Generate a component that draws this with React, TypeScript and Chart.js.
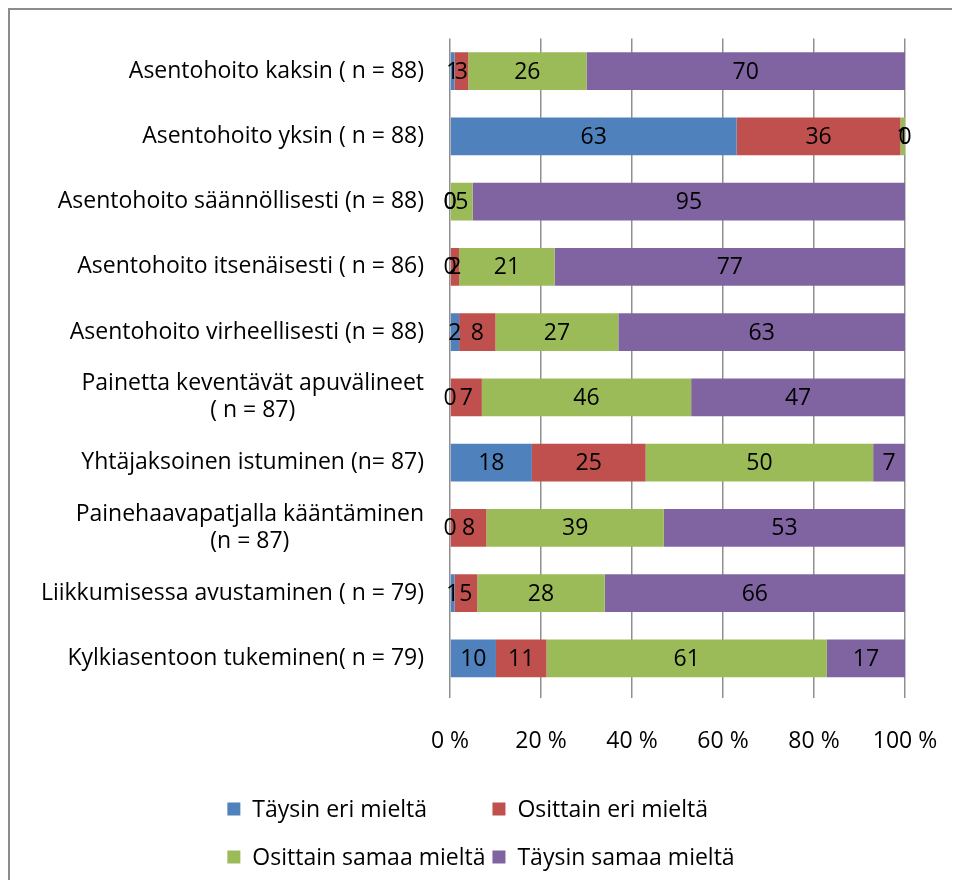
import React, { useEffect, useRef } from "react";
import { Chart, registerables } from "chart.js";

Chart.register(...registerables);

const categories: (string | string[])[] = [
  "Asentohoito kaksin ( n = 88)",
  "Asentohoito yksin ( n = 88)",
  "Asentohoito säännöllisesti (n = 88)",
  "Asentohoito itsenäisesti ( n = 86)",
  "Asentohoito virheellisesti (n = 88)",
  ["Painetta keventävät apuvälineet", "( n = 87)"],
  "Yhtäjaksoinen istuminen (n= 87)",
  ["Painehaavapatjalla kääntäminen", "(n = 87)"],
  "Liikkumisessa avustaminen ( n = 79)",
  "Kylkiasentoon tukeminen( n = 79)",
];

const seriesNames = [
  "Täysin eri mieltä",
  "Osittain eri mieltä",
  "Osittain samaa mieltä",
  "Täysin samaa mieltä",
];

const taysinEri = [1, 63, 0, 0, 2, 0, 18, 0, 1, 10];
const osittainEri = [3, 36, 0, 2, 8, 7, 25, 8, 5, 11];
const osittainSamaa = [26, 1, 5, 21, 27, 46, 50, 39, 28, 61];
const taysinSamaa = [70, 0, 95, 77, 63, 47, 7, 53, 66, 17];

const seriesColors = ["#4F81BD", "#C0504D", "#9BBB59", "#8064A2"];
const xTickValues = [0, 20, 40, 60, 80, 100];

const FONT_FAMILY = "'Open Sans', 'Noto Sans', sans-serif";
const FONT_SIZE = 23;
const FONT = `${FONT_SIZE}px ${FONT_FAMILY}`;

const W = 950;
const H = 870;

const allSeries = [taysinEri, osittainEri, osittainSamaa, taysinSamaa];
const totals = categories.map((_, i) => allSeries.reduce((s, arr) => s + arr[i], 0));

const categoryLabelPlugin = {
  id: "categoryLabels",
  afterDraw(chart: any) {
    const ctx = chart.ctx;
    const yScale = chart.scales.y;
    const rightX = chart.chartArea.left - 26;
    const lineH = 27;
    ctx.save();
    ctx.font = FONT;
    ctx.fillStyle = "#000";
    ctx.textAlign = "center";
    ctx.textBaseline = "middle";
    categories.forEach((cat, i) => {
      const lines = Array.isArray(cat) ? cat : [cat];
      const maxW = Math.max(...lines.map((l) => ctx.measureText(l).width));
      const cx = rightX - maxW / 2;
      const cy = yScale.getPixelForValue(i);
      lines.forEach((l, j) => {
        const y = cy + (j - (lines.length - 1) / 2) * lineH;
        ctx.fillText(l, cx, y);
      });
    });
    ctx.restore();
  },
};

const valueLabelPlugin = {
  id: "valueLabels",
  afterDatasetsDraw(chart: any) {
    const ctx = chart.ctx;
    ctx.save();
    ctx.font = FONT;
    ctx.fillStyle = "#000";
    ctx.textAlign = "center";
    ctx.textBaseline = "middle";
    chart.data.datasets.forEach((ds: any, di: number) => {
      const meta = chart.getDatasetMeta(di);
      meta.data.forEach((el: any, i: number) => {
        const raw = ds.rawValues[i];
        const cx = (el.x + el.base) / 2;
        ctx.fillText(String(raw), cx, el.y + 1);
      });
    });
    ctx.restore();
  },
};

const legendPlugin = {
  id: "customLegend",
  afterDraw(chart: any) {
    const ctx = chart.ctx;
    ctx.save();
    ctx.font = FONT;
    ctx.textBaseline = "middle";
    ctx.textAlign = "left";
    const box = 13;
    const gap = 12;
    const colGap = 7;
    const rowY = [799, 847];
    const items = chart.data.datasets.map((d: any) => ({ text: d.label, color: d.backgroundColor }));
    const colW = [0, 0];
    items.forEach((it: any, i: number) => {
      const w = box + gap + ctx.measureText(it.text).width;
      colW[i % 2] = Math.max(colW[i % 2], w);
    });
    const total = colW[0] + colGap + colW[1];
    const startX = (chart.width - total) / 2 - 4;
    items.forEach((it: any, i: number) => {
      const col = i % 2;
      const row = Math.floor(i / 2);
      const x = startX + (col === 0 ? 0 : colW[0] + colGap);
      const y = rowY[row];
      ctx.fillStyle = it.color;
      ctx.fillRect(x, y - box / 2, box, box);
      ctx.fillStyle = "#000";
      ctx.fillText(it.text, x + box + gap, y + 1);
    });
    ctx.restore();
  },
};

export default function App() {
  const ref = useRef<HTMLCanvasElement | null>(null);

  useEffect(() => {
    if (!ref.current) return;
    const datasets = allSeries.map((arr, si) => ({
      label: seriesNames[si],
      data: arr.map((v, i) => (v / totals[i]) * 100),
      rawValues: arr,
      backgroundColor: seriesColors[si],
      borderWidth: 0,
      categoryPercentage: 1,
      barPercentage: 0.58,
    }));
    const chart = new Chart(ref.current, {
      type: "bar",
      data: { labels: categories.map((_, i) => String(i)), datasets: datasets as any },
      options: {
        indexAxis: "y",
        responsive: false,
        animation: false,
        devicePixelRatio: 1,
        layout: { padding: { left: 440, right: 55, top: 28.5, bottom: 0 } },
        plugins: {
          legend: { display: false },
          tooltip: { enabled: false },
          title: { display: false },
        },
        scales: {
          x: {
            stacked: true,
            min: 0,
            max: 100,
            afterBuildTicks(scale: any) {
              scale.ticks = xTickValues.map((v) => ({ value: v }));
            },
            afterFit(scale: any) {
              scale.height = H - 681;
              scale.paddingLeft = 0;
              scale.paddingRight = 0;
            },
            grid: {
              color: "#8f8f8f",
              lineWidth: 1.5,
              drawTicks: true,
              tickLength: 7,
              tickColor: "#8f8f8f",
            },
            border: { display: false },
            ticks: {
              padding: 30,
              color: "#000",
              font: { family: FONT_FAMILY, size: FONT_SIZE },
              callback: (v: any) => `${v} %`,
              maxRotation: 0,
            },
          },
          y: {
            stacked: true,
            display: false,
          },
        },
      },
      plugins: [valueLabelPlugin, categoryLabelPlugin, legendPlugin],
    });
    return () => chart.destroy();
  }, []);

  return (
    <div
      style={{
        width: W,
        height: H,
        borderTop: "2px solid #8c8c8c",
        borderLeft: "2px solid #8c8c8c",
        background: "#fff",
      }}
    >
      <canvas ref={ref} width={W} height={H} style={{ display: "block", width: W, height: H }} />
    </div>
  );
}
